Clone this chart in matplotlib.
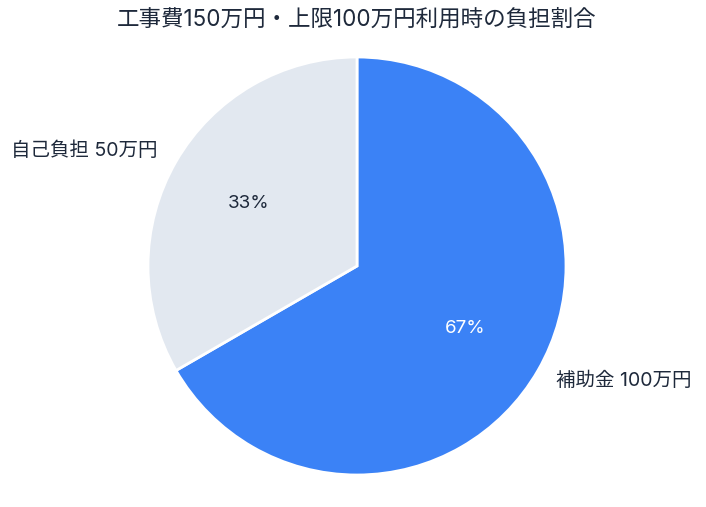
import matplotlib
matplotlib.use("Agg")
import matplotlib.pyplot as plt

plt.rcParams["font.family"] = ["Inter", "Noto Sans CJK JP", "DejaVu Sans"]

labels = ["補助金 100万円", "自己負担 50万円"]
values = [100, 50]
colors = ["#3b82f6", "#e2e8f0"]
pct_colors = ["white", "#1e293b"]
title = "工事費150万円・上限100万円利用時の負担割合"

fig = plt.figure(figsize=(7.06, 5.07), dpi=100)
ax = fig.add_axes([0, 0, 1, 1])

wedges, texts, autotexts = ax.pie(
    values,
    labels=labels,
    colors=colors,
    startangle=90,
    counterclock=False,
    autopct="%1.0f%%",
    wedgeprops={"edgecolor": "white", "linewidth": 2},
    textprops={"fontsize": 14, "color": "#1e293b"},
)
for t, c in zip(autotexts, pct_colors):
    t.set_color(c)
    t.set_fontsize(13.5)

# place the pie: centre (357, 266) px from top-left, radius 209 px
r = 209
cx, cy = 357, 507 - 266
ax.set_xlim(-cx / r, (706 - cx) / r)
ax.set_ylim(-cy / r, (507 - cy) / r)
ax.set_aspect("auto")
ax.axis("off")

fig.text(0.505, 1 - 20 / 507, title, ha="center", va="center", fontsize=16.2, color="#1e293b")

fig.savefig("out.png", dpi=100)
plt.close(fig)
